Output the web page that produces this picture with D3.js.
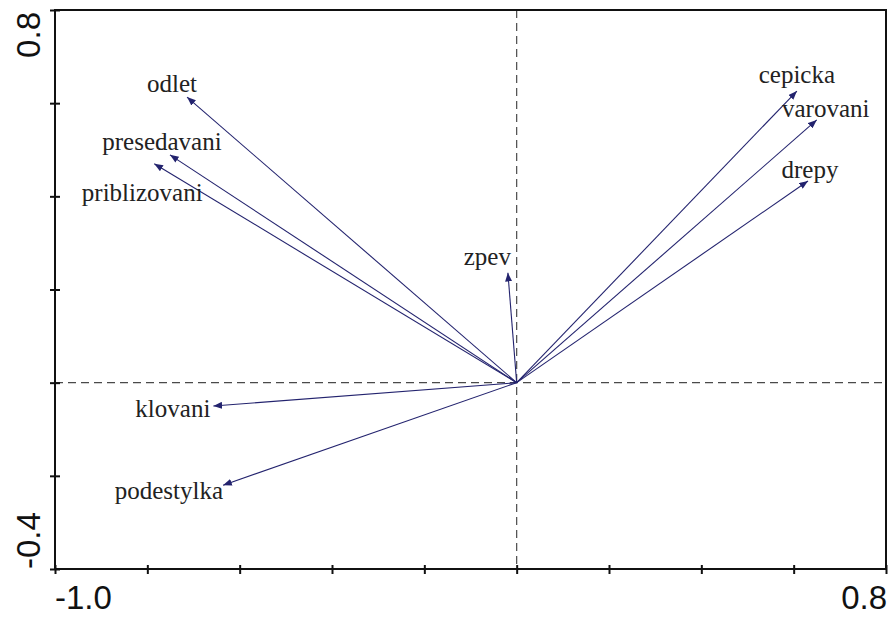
<!DOCTYPE html>
<html>
<head>
<meta charset="utf-8">
<script src="https://cdn.jsdelivr.net/npm/d3@7"></script>
<style>
  body { margin: 0; background: #fff; }
  svg { display: block; }
  .lab { font-family: "Liberation Serif", "Times New Roman", Times, serif; font-size: 25px; fill: #222; }
  .end { font-family: "Liberation Sans", Arial, sans-serif; font-size: 33px; fill: #111; }
</style>
</head>
<body>
<svg width="888" height="619"></svg>
<script>
// species / behaviour vectors (axis 1, axis 2 scores)
var names = ["odlet", "presedavani", "priblizovani", "zpev", "cepicka", "varovani", "drepy", "klovani", "podestylka"];
var ax1   = [-0.714, -0.751, -0.785, -0.019, 0.607, 0.650, 0.631, -0.657, -0.636];
var ax2   = [ 0.613,  0.489,  0.470,  0.236, 0.626, 0.564, 0.433, -0.050, -0.220];

var xTicks = [-1.0, -0.8, -0.6, -0.4, -0.2, 0, 0.2, 0.4, 0.6, 0.8];
var yTicks = [-0.4, -0.2, 0, 0.2, 0.4, 0.6, 0.8];
var xEnds = ["-1.0", "0.8"];
var yEnds = ["-0.4", "0.8"];

// label nudges (px) relative to the arrow tip
var nudge = {
  odlet:        {dx: -15, dy: -5,  anchor: "middle"},
  presedavani:  {dx:  -8, dy: -5,  anchor: "middle"},
  priblizovani: {dx: -12, dy: 37,  anchor: "middle"},
  zpev:         {dx:   3, dy: -8,  anchor: "end"},
  cepicka:      {dx:   0, dy: -8,  anchor: "middle"},
  varovani:     {dx:   9, dy: -3,  anchor: "middle"},
  drepy:        {dx:   2, dy: -3,  anchor: "middle"},
  klovani:      {dx:  -3, dy: 11,  anchor: "end"},
  podestylka:   {dx:   0, dy: 14,  anchor: "end"}
};

var svg = d3.select("svg");
var pl = 55, pr = 886, pt = 10, pb = 569;

var x = d3.scaleLinear().domain([-1.0, 0.8]).range([pl, pr]);
var y = d3.scaleLinear().domain([-0.4, 0.8]).range([pb, pt]);

var navy = "#23236e";

svg.append("defs").append("marker")
  .attr("id", "head")
  .attr("viewBox", "0 -4 10 8")
  .attr("refX", 10).attr("refY", 0)
  .attr("markerWidth", 9).attr("markerHeight", 7)
  .attr("markerUnits", "userSpaceOnUse")
  .attr("orient", "auto")
  .append("path")
  .attr("d", "M0,-4L10,0L0,4Z")
  .attr("fill", navy);

// dashed zero lines
svg.append("line")
  .attr("x1", pl).attr("x2", pr)
  .attr("y1", y(0)).attr("y2", y(0))
  .attr("stroke", "#4a4a4a").attr("stroke-width", 1.2)
  .attr("stroke-dasharray", "8,5");
svg.append("line")
  .attr("x1", x(0)).attr("x2", x(0))
  .attr("y1", pt).attr("y2", pb)
  .attr("stroke", "#4a4a4a").attr("stroke-width", 1.2)
  .attr("stroke-dasharray", "8,5");

// arrows
var g = svg.append("g");
names.forEach(function(n, i) {
  g.append("line")
    .attr("x1", x(0)).attr("y1", y(0))
    .attr("x2", x(ax1[i])).attr("y2", y(ax2[i]))
    .attr("stroke", navy).attr("stroke-width", 1.1)
    .attr("marker-end", "url(#head)");
  var nd = nudge[n];
  g.append("text")
    .attr("class", "lab")
    .attr("x", x(ax1[i]) + nd.dx)
    .attr("y", y(ax2[i]) + nd.dy)
    .attr("text-anchor", nd.anchor)
    .text(n);
});

// frame
svg.append("rect")
  .attr("x", pl).attr("y", pt)
  .attr("width", pr - pl).attr("height", pb - pt)
  .attr("fill", "none").attr("stroke", "#111").attr("stroke-width", 2);

// ticks crossing the axes
var xAxis = svg.append("g")
  .attr("transform", "translate(0," + pb + ")")
  .call(d3.axisBottom(x).tickValues(xTicks).tickSize(5).tickFormat(""));
xAxis.select(".domain").remove();
xAxis.selectAll(".tick line").attr("y1", -4).attr("stroke", "#111").attr("stroke-width", 2);

var yAxis = svg.append("g")
  .attr("transform", "translate(" + pl + ",0)")
  .call(d3.axisLeft(y).tickValues(yTicks).tickSize(5).tickFormat(""));
yAxis.select(".domain").remove();
yAxis.selectAll(".tick line").attr("x1", 5).attr("stroke", "#111").attr("stroke-width", 2);

// end labels
svg.append("text").attr("class", "end").attr("x", pl).attr("y", 609)
  .text(xEnds[0]);
svg.append("text").attr("class", "end").attr("x", pr + 1).attr("y", 609)
  .attr("text-anchor", "end")
  .text(xEnds[1]);
svg.append("text").attr("class", "end")
  .attr("transform", "translate(40," + pb + ") rotate(-90)")
  .text(yEnds[0]);
svg.append("text").attr("class", "end")
  .attr("transform", "translate(40," + (pt + 2) + ") rotate(-90)")
  .attr("text-anchor", "end")
  .text(yEnds[1]);
</script>
</body>
</html>
